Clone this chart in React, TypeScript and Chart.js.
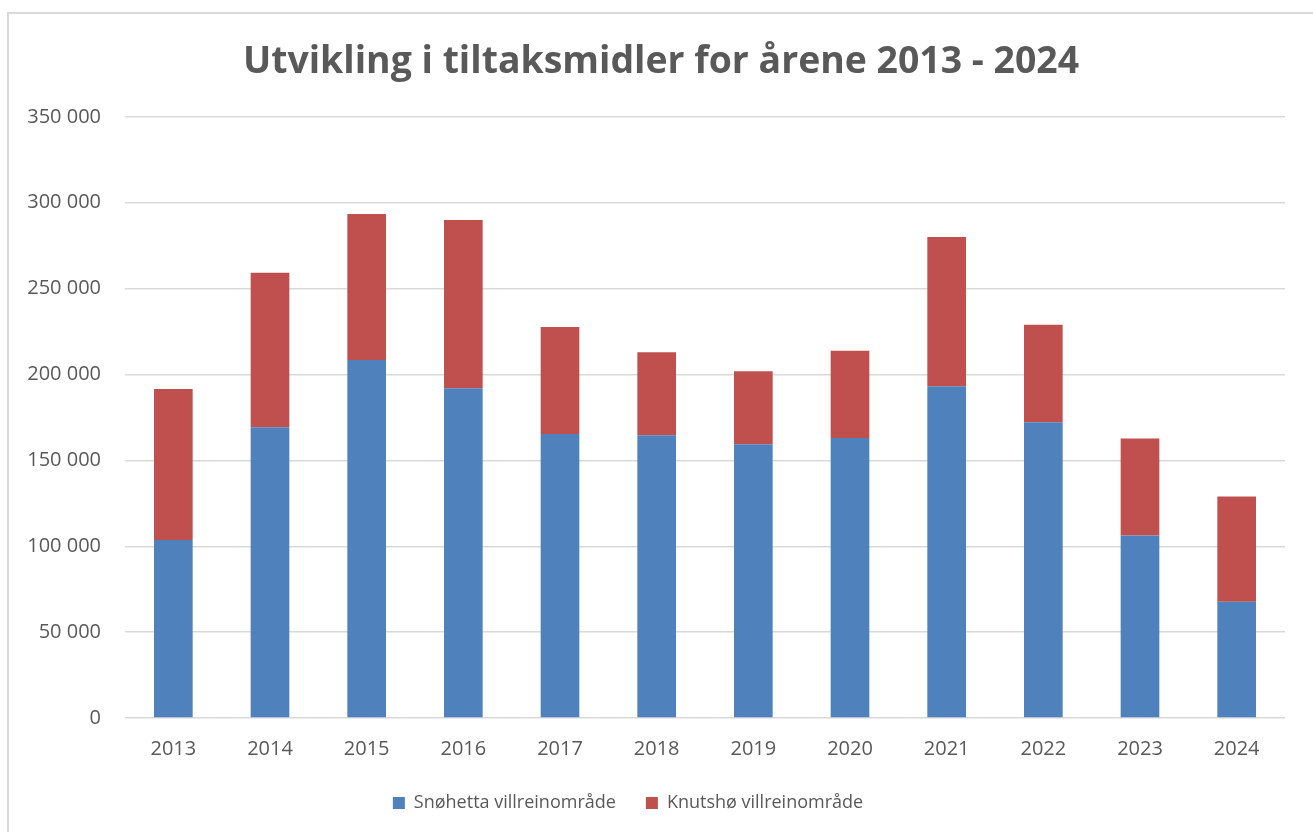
import React, { useEffect, useRef } from "react";
import { Chart, registerables } from "chart.js";

Chart.register(...registerables);

const years = ["2013", "2014", "2015", "2016", "2017", "2018", "2019", "2020", "2021", "2022", "2023", "2024"];
const snohetta = [103700, 169300, 208500, 192000, 165400, 164600, 159400, 163100, 193200, 172200, 106200, 67700];
const knutsho = [87900, 90000, 85000, 98000, 62300, 48400, 42500, 50800, 86900, 56700, 56500, 61200];
const seriesNames = ["Snøhetta villreinområde", "Knutshø villreinområde"];
const titleText = "Utvikling i tiltaksmidler for årene 2013 - 2024";

const fmt = (v: number) => String(v).replace(/\B(?=(\d{3})+(?!\d))/g, " ");

const legendShift = {
  id: "legendShift",
  afterLayout(chart: any) {
    const l = chart.legend;
    if (l) {
      l.left -= 33;
      l.right -= 33;
    }
  },
};

export default function App() {
  const ref = useRef<HTMLCanvasElement | null>(null);
  useEffect(() => {
    if (!ref.current) return;
    const chart = new Chart(ref.current, {
      type: "bar",
      data: {
        labels: years,
        datasets: [
          { label: seriesNames[0], data: snohetta, backgroundColor: "#4F81BD", borderWidth: 0, categoryPercentage: 1, barPercentage: 0.4 },
          { label: seriesNames[1], data: knutsho, backgroundColor: "#C0504D", borderWidth: 0, categoryPercentage: 1, barPercentage: 0.4 },
        ],
      },
      options: {
        animation: false,
        responsive: false,
        maintainAspectRatio: false,
        layout: { padding: { left: 9, right: 0, top: 0, bottom: 10 } },
        plugins: {
          title: {
            display: true,
            text: titleText,
            color: "#595959",
            font: { family: "'Open Sans'", size: 37.4, weight: "bold" },
            padding: { top: 40, bottom: 32 },
          },
          legend: {
            position: "bottom",
            labels: {
              color: "#595959",
              font: { family: "'Open Sans'", size: 18 },
              boxWidth: 12,
              boxHeight: 12,
              padding: 30,
            },
          },
          tooltip: { enabled: false },
        },
        scales: {
          x: {
            stacked: true,
            grid: { display: false },
            border: { display: false },
            ticks: { color: "#595959", font: { family: "'Open Sans'", size: 20 }, padding: 11 },
            afterFit: (s: any) => { s.height = 46; },
          },
          y: {
            stacked: true,
            min: 0,
            max: 350000,
            grid: { color: "#d9d9d9", lineWidth: 1.5, drawTicks: false },
            border: { display: false },
            ticks: {
              stepSize: 50000,
              color: "#595959",
              font: { family: "'Open Sans'", size: 20 },
              padding: 24,
              callback: (v: any) => fmt(Number(v)),
            },
            afterFit: (s: any) => { s.width = 116; },
          },
          yRight: {
            position: "right",
            display: true,
            grid: { display: false },
            border: { display: false },
            ticks: { display: false },
            afterFit: (s: any) => { s.width = 28; },
          },
        },
      },
      plugins: [legendShift],
    });
    return () => chart.destroy();
  }, []);
  return (
    <div>
      <div
        style={{
          position: "fixed",
          left: 7,
          top: 12,
          width: 1400,
          height: 900,
          border: "2px solid #d9d9d9",
          boxSizing: "border-box",
          background: "#fff",
        }}
      />
      <canvas
        ref={ref}
        width={1313}
        height={832}
        style={{ position: "fixed", left: 0, top: 0, width: 1313, height: 832 }}
      />
    </div>
  );
}
